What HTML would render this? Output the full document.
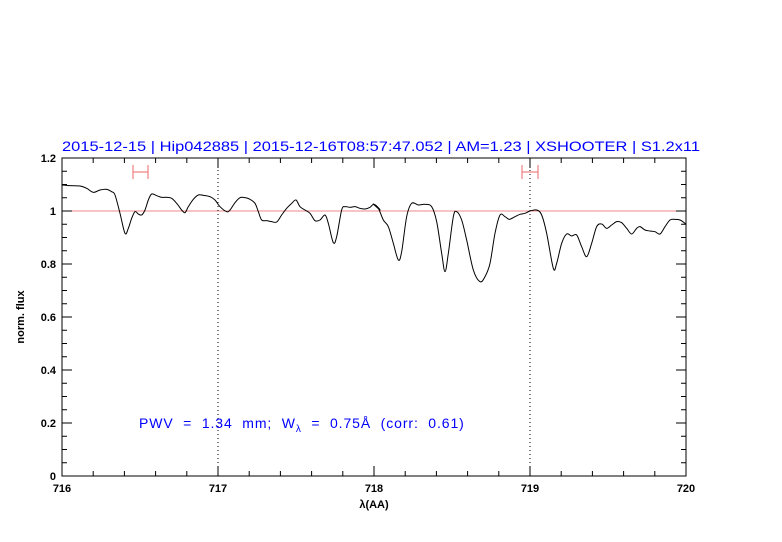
<!DOCTYPE html><html><head><style>body{margin:0;background:#fff}svg{display:block}</style></head><body>
<svg id="s" width="782" height="542" xmlns="http://www.w3.org/2000/svg" font-family="Liberation Sans, sans-serif">
<text x="62" y="151" font-size="14" fill="#0000ff" textLength="638" lengthAdjust="spacingAndGlyphs">2015-12-15 | Hip042885 | 2015-12-16T08:57:47.052 | AM=1.23 | XSHOOTER | S1.2x11</text>
<line x1="62" y1="211" x2="686" y2="211" stroke="#ee8888" stroke-width="1"/>
<line x1="218" y1="158" x2="218" y2="476" stroke="#000" stroke-dasharray="1,3"/>
<line x1="530" y1="158" x2="530" y2="476" stroke="#000" stroke-dasharray="1,3"/>
<g stroke="#f08080" stroke-width="1.2"><line x1="133" y1="172" x2="148" y2="172"/><line x1="133" y1="165" x2="133" y2="179"/><line x1="148" y1="165" x2="148" y2="179"/>
<line x1="522" y1="172" x2="538" y2="172"/><line x1="522" y1="165" x2="522" y2="179"/><line x1="538" y1="165" x2="538" y2="179"/></g>
<g id="ax" stroke="#000" stroke-width="1"></g>
<path id="c" fill="none" stroke="#000" stroke-width="1"/>
<rect x="62" y="158" width="624" height="318" fill="none" stroke="#000" stroke-width="1"/>
<g font-size="11" font-weight="bold" text-anchor="middle">
<text x="62" y="492">716</text><text x="218" y="492">717</text><text x="374" y="492">718</text><text x="530" y="492">719</text><text x="686" y="492">720</text>
<text x="374" y="508">λ(AA)</text></g>
<g font-size="11" font-weight="bold" text-anchor="end">
<text x="56" y="480">0</text><text x="56" y="427">0.2</text><text x="56" y="374">0.4</text><text x="56" y="321">0.6</text><text x="56" y="268">0.8</text><text x="56" y="215">1</text><text x="56" y="162">1.2</text></g>
<text transform="translate(24,317) rotate(-90)" font-size="11" font-weight="bold" text-anchor="middle">norm. flux</text>
<text x="139" y="428" font-size="14" fill="#0000ff" letter-spacing="0.9" xml:space="preserve">PWV  =  1.34  mm;  W<tspan font-size="10" dy="4">λ</tspan><tspan dy="-4">  =  0.75Å  (corr:  0.61)</tspan></text>
</svg>
<script>
var a=[[0,105],[30,107],[60,108],[80,115],[100,127],[120,120],[140,118],[155,125],[165,135],[180,190],[195,250],[205,235],[215,205],[225,185],[235,192],[245,195],[255,180],[265,150],[275,132],[290,137],[305,142],[320,142],[335,145],[350,160],[365,180],[375,188],[385,170],[400,148],[415,135],[430,136],[450,140],[465,150],[480,170],[500,185],[510,180],[525,158],[540,143],[555,143],[570,148],[585,160],[595,185],[605,210],[620,212],[635,215],[650,216],[665,195],[680,175],[695,160],[708,150],[720,170],[735,180],[750,190],[765,212],[780,210],[795,195],[805,220],[820,278],[830,260],[845,180],[855,170],[870,172],[885,170],[900,175],[915,177],[930,172],[940,163],[950,168],[960,180]];
var b=[[10,162],[25,175],[40,210],[55,230],[70,280],[85,330],[95,305],[110,200],[125,160],[145,165],[165,163],[185,170],[200,215],[215,310],[225,365],[235,310],[250,200],[260,185],[275,210],[290,270],[310,360],[330,395],[345,380],[360,340],[375,250],[390,195],[405,200],[418,208],[435,200],[450,193],[465,190],[480,183],[500,180],[515,195],[530,250],[550,355],[560,340],[575,280],[590,252],[605,258],[620,255],[635,290],[650,320],[665,280],[680,230],[695,222],[710,235],[725,225],[740,215],[755,218],[770,235],[785,252],[800,235],[810,230],[825,240],[840,243],[855,245],[870,252],[885,230],[900,210],[915,208],[930,210],[945,220],[948,225]];
var p=[[62,185]];a.forEach(function(q){var x=60+q[0]/3;if(x>62)p.push([x,150+q[1]/3])});
b.forEach(function(q){p.push([370+q[0]/3,150+q[1]/3])});
var d='M'+p[0][0]+','+p[0][1];
for(var i=0;i<p.length-1;i++){var p0=p[Math.max(0,i-1)],p1=p[i],p2=p[i+1],p3=p[Math.min(p.length-1,i+2)];
d+=' C'+(p1[0]+(p2[0]-p0[0])/6)+','+(p1[1]+(p2[1]-p0[1])/6)+' '+(p2[0]-(p3[0]-p1[0])/6)+','+(p2[1]-(p3[1]-p1[1])/6)+' '+p2[0]+','+p2[1];}
document.getElementById('c').setAttribute('d',d);
var g=document.getElementById('ax'),s='';
for(var i=0;i<=20;i++){var x=62+i*31.2,l=i%5==0?10:5;s+='<line x1="'+x+'" y1="476" x2="'+x+'" y2="'+(476-l)+'"/><line x1="'+x+'" y1="158" x2="'+x+'" y2="'+(158+l)+'"/>';}
for(var j=0;j<=24;j++){var y=476-j*13.25,l=j%4==0?10:5;s+='<line x1="62" y1="'+y+'" x2="'+(62+l)+'" y2="'+y+'"/><line x1="686" y1="'+y+'" x2="'+(686-l)+'" y2="'+y+'"/>';}
g.innerHTML=s;
</script>
</body></html>
